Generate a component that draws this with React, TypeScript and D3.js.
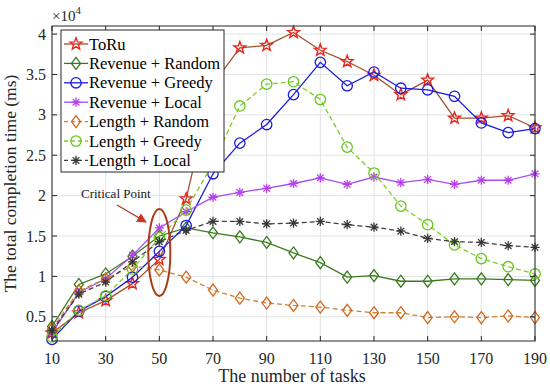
import React from "react";
import * as d3 from "d3";

const tasks = [10, 20, 30, 40, 50, 60, 70, 80, 90, 100, 110, 120, 130, 140, 150, 160, 170, 180, 190];
const toru = [0.30, 0.55, 0.70, 0.91, 1.21, 1.96, 3.38, 3.83, 3.86, 4.02, 3.80, 3.66, 3.49, 3.25, 3.43, 2.96, 2.96, 2.99, 2.84];
const revRandom = [0.38, 0.90, 1.03, 1.25, 1.50, 1.60, 1.54, 1.49, 1.42, 1.29, 1.17, 0.99, 1.01, 0.94, 0.94, 0.97, 0.97, 0.96, 0.95];
const revGreedy = [0.22, 0.57, 0.75, 0.99, 1.31, 1.63, 2.27, 2.65, 2.88, 3.25, 3.65, 3.36, 3.53, 3.33, 3.31, 3.23, 2.90, 2.78, 2.83];
const revLocal = [0.30, 0.80, 0.97, 1.26, 1.60, 1.80, 1.98, 2.04, 2.09, 2.15, 2.22, 2.14, 2.23, 2.16, 2.20, 2.14, 2.19, 2.19, 2.27];
const lenRandom = [0.35, 0.82, 0.97, 1.13, 1.08, 0.99, 0.83, 0.73, 0.67, 0.64, 0.62, 0.58, 0.55, 0.55, 0.49, 0.50, 0.49, 0.51, 0.49];
const lenGreedy = [0.25, 0.58, 0.76, 1.09, 1.48, 1.82, 2.40, 3.11, 3.38, 3.41, 3.19, 2.60, 2.28, 1.87, 1.64, 1.39, 1.22, 1.12, 1.03];
const lenLocal = [0.33, 0.78, 0.93, 1.18, 1.43, 1.57, 1.68, 1.68, 1.65, 1.66, 1.68, 1.64, 1.61, 1.56, 1.47, 1.43, 1.42, 1.38, 1.36];

const xTicks = [10, 30, 50, 70, 90, 110, 130, 150, 170, 190];
const yTicks = [0.5, 1, 1.5, 2, 2.5, 3, 3.5, 4];
const yTickLabels = ["0.5", "1", "1.5", "2", "2.5", "3", "3.5", "4"];

type Marker = "star" | "diamond" | "circle" | "asterisk";
const series: { name: string; values: number[]; line: string; mark: string; marker: Marker; dash?: string }[] = [
  { name: "ToRu", values: toru, line: "#a4502a", mark: "#e8261f", marker: "star" },
  { name: "Revenue + Random", values: revRandom, line: "#3a7a1e", mark: "#3a7a1e", marker: "diamond" },
  { name: "Revenue + Greedy", values: revGreedy, line: "#1a1ae0", mark: "#1a1ae0", marker: "circle" },
  { name: "Revenue + Local", values: revLocal, line: "#a64df0", mark: "#b83ff0", marker: "asterisk" },
  { name: "Length + Random", values: lenRandom, line: "#c98436", mark: "#d2691e", marker: "diamond", dash: "5,3" },
  { name: "Length + Greedy", values: lenGreedy, line: "#80cc2a", mark: "#66c81a", marker: "circle", dash: "5,3" },
  { name: "Length + Local", values: lenLocal, line: "#404040", mark: "#383838", marker: "asterisk", dash: "5,3" },
];

const W = 550, H = 387;
const L = 52, R = 535, T = 26, B = 341;
const FONT = '"Liberation Serif", "Times New Roman", Times, "DejaVu Serif", serif';
const ts = { fontFamily: FONT };

function starPath(cx: number, cy: number, ro: number, ri: number) {
  const pts: string[] = [];
  for (let i = 0; i < 10; i++) {
    const r = i % 2 === 0 ? ro : ri;
    const a = -Math.PI / 2 + (i * Math.PI) / 5;
    pts.push(`${(cx + r * Math.cos(a)).toFixed(2)},${(cy + r * Math.sin(a)).toFixed(2)}`);
  }
  return "M" + pts.join("L") + "Z";
}

function MarkerShape({ type, x, y, color }: { type: Marker; x: number; y: number; color: string }) {
  if (type === "star") return <path d={starPath(x, y, 6.2, 2.6)} fill="none" stroke={color} strokeWidth={1.4} />;
  if (type === "diamond")
    return <path d={`M${x},${y - 6}L${x + 4.5},${y}L${x},${y + 6}L${x - 4.5},${y}Z`} fill="none" stroke={color} strokeWidth={1.3} />;
  if (type === "circle") return <circle cx={x} cy={y} r={5.2} fill="none" stroke={color} strokeWidth={1.3} />;
  const r = 4.6, d = r * 0.72;
  return (
    <path
      d={`M${x - r},${y}L${x + r},${y}M${x},${y - r}L${x},${y + r}M${x - d},${y - d}L${x + d},${y + d}M${x - d},${y + d}L${x + d},${y - d}`}
      stroke={color}
      strokeWidth={1.3}
    />
  );
}

export default function App() {
  const x = d3.scaleLinear().domain([10, 190]).range([L, R]);
  const y = d3.scaleLinear().domain([0.2, 4.1]).range([B, T]);
  const line = d3
    .line<number>()
    .x((_, i) => x(tasks[i]))
    .y((v) => y(v));

  const legX = 61, legY = 30, legW = 163, legH = 142, rowH = 19.4;

  return (
    <svg width={W} height={H} style={{ position: "absolute", left: 0, top: 0, background: "#fff", fontFamily: FONT }}>
      <rect x={0} y={0} width={W} height={H} fill="#fff" />
      {xTicks.map((t) => (
        <line key={"gx" + t} x1={x(t)} x2={x(t)} y1={T} y2={B} stroke="#e3e3e3" strokeWidth={1} />
      ))}
      {yTicks.map((t) => (
        <line key={"gy" + t} x1={L} x2={R} y1={y(t)} y2={y(t)} stroke="#e3e3e3" strokeWidth={1} />
      ))}
      {series.map((s) => (
        <g key={s.name}>
          <path d={line(s.values) || ""} fill="none" stroke={s.line} strokeWidth={1.3} strokeDasharray={s.dash} />
          {s.values.map((v, i) => (
            <MarkerShape key={i} type={s.marker} x={x(tasks[i])} y={y(v)} color={s.mark} />
          ))}
        </g>
      ))}
      <rect x={L} y={T} width={R - L} height={B - T} fill="none" stroke="#262626" strokeWidth={1} />
      {xTicks.map((t) => (
        <g key={"tx" + t}>
          <line x1={x(t)} x2={x(t)} y1={B} y2={B - 5} stroke="#262626" />
          <line x1={x(t)} x2={x(t)} y1={T} y2={T + 5} stroke="#262626" />
          <text x={x(t)} y={B + 23} fontSize={16} textAnchor="middle" fill="#262626" style={ts}>
            {t}
          </text>
        </g>
      ))}
      {yTicks.map((t, i) => (
        <g key={"ty" + t}>
          <line x1={L} x2={L + 5} y1={y(t)} y2={y(t)} stroke="#262626" />
          <line x1={R} x2={R - 5} y1={y(t)} y2={y(t)} stroke="#262626" />
          <text x={L - 6} y={y(t) + 5.5} fontSize={16} textAnchor="end" fill="#262626" style={ts}>
            {yTickLabels[i]}
          </text>
        </g>
      ))}
      <text x={52} y={21} fontSize={15} fill="#262626" style={ts}>
        ×10
        <tspan dy={-7} fontSize={11}>
          4
        </tspan>
      </text>
      <text x={292} y={382} fontSize={18} textAnchor="middle" fill="#262626" style={ts}>
        The number of tasks
      </text>
      <text transform={`translate(16,${(T + B) / 2}) rotate(-90)`} fontSize={17.5} textAnchor="middle" fill="#262626" style={ts}>
        The total completion time (ms)
      </text>
      <text x={81} y={198} fontSize={13} fill="#1a1a1a" style={ts}>
        Critical Point
      </text>
      <defs>
        <marker id="arr" viewBox="0 0 10 10" refX={9} refY={5} markerWidth={7} markerHeight={7} orient="auto">
          <path d="M0,0L10,5L0,10Z" fill="#d2321e" />
        </marker>
      </defs>
      <line x1={117} y1={205} x2={146} y2={222} stroke="#b03a20" strokeWidth={1.4} markerEnd="url(#arr)" />
      <ellipse cx={x(50)} cy={252.5} rx={11} ry={43.5} fill="none" stroke="#a83c18" strokeWidth={2} />
      <rect x={legX} y={legY} width={legW} height={legH} fill="#fff" stroke="#262626" strokeWidth={1} />
      {series.map((s, i) => {
        const cy = legY + 14 + i * rowH;
        return (
          <g key={"leg" + s.name}>
            <line x1={legX + 3} x2={legX + 27} y1={cy} y2={cy} stroke={s.line} strokeWidth={1.3} strokeDasharray={s.dash ? "4,3" : undefined} />
            <MarkerShape type={s.marker} x={legX + 15} y={cy} color={s.mark} />
            <text x={legX + 28} y={cy + 5.5} fontSize={16.5} fill="#000" style={ts}>
              {s.name}
            </text>
          </g>
        );
      })}
    </svg>
  );
}
